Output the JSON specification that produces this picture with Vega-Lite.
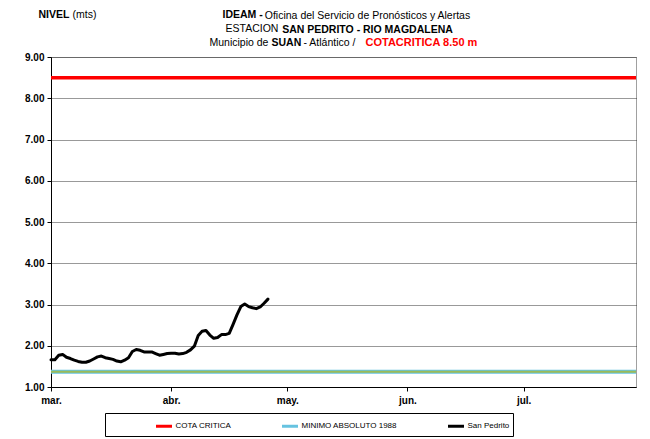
{
  "$schema": "https://vega.github.io/schema/vega-lite/v6.json",
  "width": 585,
  "height": 330,
  "autosize": {"type": "none"},
  "padding": {"left": 51, "top": 57, "right": 14, "bottom": 52},
  "background": "white",
  "title": {
    "text": "Oficina del Servicio de Pronósticos y Alertas",
    "subtitle": "SAN PEDRITO - RIO MAGDALENA",
    "anchor": "middle",
    "frame": "group",
    "dx": 24,
    "offset": -26,
    "font": "Liberation Sans",
    "fontSize": 10.5,
    "fontWeight": "normal",
    "color": "black",
    "subtitleFont": "Liberation Sans",
    "subtitleFontSize": 10.5,
    "subtitleFontWeight": "bold",
    "subtitleColor": "black",
    "subtitlePadding": 3
  },
  "data": {
    "values": [
      {"serie": "COTA CRITICA", "fecha": "2011-03-01T00:00", "nivel": 8.5},
      {"serie": "COTA CRITICA", "fecha": "2011-07-30T00:00", "nivel": 8.5},
      {"serie": "MINIMO ABSOLUTO 1988", "fecha": "2011-03-01T00:00", "nivel": 1.37},
      {"serie": "MINIMO ABSOLUTO 1988", "fecha": "2011-07-30T00:00", "nivel": 1.37},
      {"serie": "San Pedrito", "fecha": "2011-03-01T00:00", "nivel": 1.66},
      {"serie": "San Pedrito", "fecha": "2011-03-02T00:00", "nivel": 1.66},
      {"serie": "San Pedrito", "fecha": "2011-03-03T00:00", "nivel": 1.77},
      {"serie": "San Pedrito", "fecha": "2011-03-04T00:00", "nivel": 1.79},
      {"serie": "San Pedrito", "fecha": "2011-03-05T00:00", "nivel": 1.72},
      {"serie": "San Pedrito", "fecha": "2011-03-06T00:00", "nivel": 1.69},
      {"serie": "San Pedrito", "fecha": "2011-03-07T00:00", "nivel": 1.65},
      {"serie": "San Pedrito", "fecha": "2011-03-08T00:00", "nivel": 1.62},
      {"serie": "San Pedrito", "fecha": "2011-03-09T00:00", "nivel": 1.6},
      {"serie": "San Pedrito", "fecha": "2011-03-10T00:00", "nivel": 1.6},
      {"serie": "San Pedrito", "fecha": "2011-03-11T00:00", "nivel": 1.63},
      {"serie": "San Pedrito", "fecha": "2011-03-12T00:00", "nivel": 1.68},
      {"serie": "San Pedrito", "fecha": "2011-03-13T00:00", "nivel": 1.73},
      {"serie": "San Pedrito", "fecha": "2011-03-14T00:00", "nivel": 1.75},
      {"serie": "San Pedrito", "fecha": "2011-03-15T00:00", "nivel": 1.71},
      {"serie": "San Pedrito", "fecha": "2011-03-16T00:00", "nivel": 1.69},
      {"serie": "San Pedrito", "fecha": "2011-03-17T00:00", "nivel": 1.67},
      {"serie": "San Pedrito", "fecha": "2011-03-18T00:00", "nivel": 1.63},
      {"serie": "San Pedrito", "fecha": "2011-03-19T00:00", "nivel": 1.61},
      {"serie": "San Pedrito", "fecha": "2011-03-20T00:00", "nivel": 1.65},
      {"serie": "San Pedrito", "fecha": "2011-03-21T00:00", "nivel": 1.71},
      {"serie": "San Pedrito", "fecha": "2011-03-22T00:00", "nivel": 1.86},
      {"serie": "San Pedrito", "fecha": "2011-03-23T00:00", "nivel": 1.91},
      {"serie": "San Pedrito", "fecha": "2011-03-24T00:00", "nivel": 1.89},
      {"serie": "San Pedrito", "fecha": "2011-03-25T00:00", "nivel": 1.85},
      {"serie": "San Pedrito", "fecha": "2011-03-26T00:00", "nivel": 1.85},
      {"serie": "San Pedrito", "fecha": "2011-03-27T00:00", "nivel": 1.85},
      {"serie": "San Pedrito", "fecha": "2011-03-28T00:00", "nivel": 1.81},
      {"serie": "San Pedrito", "fecha": "2011-03-29T00:00", "nivel": 1.77},
      {"serie": "San Pedrito", "fecha": "2011-03-30T00:00", "nivel": 1.79},
      {"serie": "San Pedrito", "fecha": "2011-03-31T00:00", "nivel": 1.81},
      {"serie": "San Pedrito", "fecha": "2011-04-01T00:00", "nivel": 1.82},
      {"serie": "San Pedrito", "fecha": "2011-04-02T00:00", "nivel": 1.82},
      {"serie": "San Pedrito", "fecha": "2011-04-03T00:00", "nivel": 1.8},
      {"serie": "San Pedrito", "fecha": "2011-04-04T00:00", "nivel": 1.81},
      {"serie": "San Pedrito", "fecha": "2011-04-05T00:00", "nivel": 1.84},
      {"serie": "San Pedrito", "fecha": "2011-04-06T00:00", "nivel": 1.9},
      {"serie": "San Pedrito", "fecha": "2011-04-07T00:00", "nivel": 1.99},
      {"serie": "San Pedrito", "fecha": "2011-04-08T00:00", "nivel": 2.25},
      {"serie": "San Pedrito", "fecha": "2011-04-09T00:00", "nivel": 2.35},
      {"serie": "San Pedrito", "fecha": "2011-04-10T00:00", "nivel": 2.37},
      {"serie": "San Pedrito", "fecha": "2011-04-11T00:00", "nivel": 2.26},
      {"serie": "San Pedrito", "fecha": "2011-04-12T00:00", "nivel": 2.18},
      {"serie": "San Pedrito", "fecha": "2011-04-13T00:00", "nivel": 2.2},
      {"serie": "San Pedrito", "fecha": "2011-04-14T00:00", "nivel": 2.27},
      {"serie": "San Pedrito", "fecha": "2011-04-15T00:00", "nivel": 2.27},
      {"serie": "San Pedrito", "fecha": "2011-04-16T00:00", "nivel": 2.3},
      {"serie": "San Pedrito", "fecha": "2011-04-17T00:00", "nivel": 2.52},
      {"serie": "San Pedrito", "fecha": "2011-04-18T00:00", "nivel": 2.75},
      {"serie": "San Pedrito", "fecha": "2011-04-19T00:00", "nivel": 2.95},
      {"serie": "San Pedrito", "fecha": "2011-04-20T00:00", "nivel": 3.01},
      {"serie": "San Pedrito", "fecha": "2011-04-21T00:00", "nivel": 2.95},
      {"serie": "San Pedrito", "fecha": "2011-04-22T00:00", "nivel": 2.92},
      {"serie": "San Pedrito", "fecha": "2011-04-23T00:00", "nivel": 2.9},
      {"serie": "San Pedrito", "fecha": "2011-04-24T00:00", "nivel": 2.94},
      {"serie": "San Pedrito", "fecha": "2011-04-25T00:00", "nivel": 3.03},
      {"serie": "San Pedrito", "fecha": "2011-04-26T00:00", "nivel": 3.13}
    ]
  },
  "layer": [
    {
      "transform": [{"filter": "datum.serie === 'MINIMO ABSOLUTO 1988'"}],
      "mark": {"type": "line", "strokeWidth": 4},
      "encoding": {
        "x": {
          "field": "fecha", "type": "temporal",
          "scale": {"domain": [{"year": 2011, "month": 3, "date": 1}, {"year": 2011, "month": 7, "date": 30}]},
          "axis": {"orient": "top", "title": "Municipio de", "labels": false, "ticks": false, "domain": false, "grid": false,
            "titleX": 158, "titleY": -15, "titleAlign": "left", "titleBaseline": "middle", "titleAngle": 0,
            "titleFont": "Liberation Sans", "titleFontSize": 10.5, "titleFontWeight": "normal", "titleColor": "black"}
        },
        "y": {
          "field": "nivel", "type": "quantitative",
          "scale": {"domain": [1, 9], "nice": false, "zero": false},
          "axis": {"orient": "left", "title": "SUAN", "labels": false, "ticks": false, "domain": false, "grid": false,
            "titleX": 220, "titleY": -15, "titleAlign": "left", "titleBaseline": "middle", "titleAngle": 0,
            "titleFont": "Liberation Sans", "titleFontSize": 10.5, "titleFontWeight": "bold", "titleColor": "black"}
        },
        "color": {
          "field": "serie", "type": "nominal",
          "scale": {"domain": ["COTA CRITICA", "MINIMO ABSOLUTO 1988", "San Pedrito"], "range": ["#ff0000", "#66c3e0", "#000000"]},
          "legend": {
            "title": " ", "titleOrient": "left", "titlePadding": 46, "titleFontSize": 8,
            "orient": "none", "legendX": 54, "legendY": 356, "direction": "horizontal",
            "symbolType": "stroke", "symbolSize": 256, "symbolStrokeWidth": 3,
            "labelFont": "Liberation Sans", "labelFontSize": 8, "labelColor": "black",
            "labelOffset": 2, "columnPadding": 44, "padding": 3.5,
            "strokeColor": "black", "fillColor": "white"
          }
        }
      }
    },
    {
      "transform": [{"filter": "datum.serie === 'MINIMO ABSOLUTO 1988'"}],
      "mark": {"type": "line", "strokeWidth": 2, "color": "#9bbb59"},
      "encoding": {
        "x": {
          "field": "fecha", "type": "temporal",
          "axis": {"orient": "top", "title": "- Atlántico  /", "labels": false, "ticks": false, "domain": false, "grid": false,
            "titleX": 252, "titleY": -15, "titleAlign": "left", "titleBaseline": "middle", "titleAngle": 0,
            "titleFont": "Liberation Sans", "titleFontSize": 10.5, "titleFontWeight": "normal", "titleColor": "black"}
        },
        "y": {
          "field": "nivel", "type": "quantitative",
          "axis": {"orient": "left", "title": "ESTACION", "labels": false, "ticks": false, "domain": false, "grid": false,
            "titleX": 174, "titleY": -29, "titleAlign": "left", "titleBaseline": "middle", "titleAngle": 0,
            "titleFont": "Liberation Sans", "titleFontSize": 10.5, "titleFontWeight": "normal", "titleColor": "black"}
        }
      }
    },
    {
      "transform": [{"filter": "datum.serie === 'COTA CRITICA'"}],
      "mark": {"type": "line", "strokeWidth": 3.5},
      "encoding": {
        "x": {
          "field": "fecha", "type": "temporal",
          "axis": {"orient": "top", "title": "COTACRITICA 8.50 m", "labels": false, "ticks": false, "domain": false, "grid": false,
            "titleX": 314, "titleY": -15, "titleAlign": "left", "titleBaseline": "middle", "titleAngle": 0,
            "titleFont": "Liberation Sans", "titleFontSize": 11, "titleFontWeight": "bold", "titleColor": "#ff0000"}
        },
        "y": {
          "field": "nivel", "type": "quantitative",
          "axis": {"orient": "left", "title": "IDEAM -", "labels": false, "ticks": false, "domain": false, "grid": false,
            "titleX": 171, "titleY": -43, "titleAlign": "left", "titleBaseline": "middle", "titleAngle": 0,
            "titleFont": "Liberation Sans", "titleFontSize": 10.5, "titleFontWeight": "bold", "titleColor": "black"}
        },
        "color": {"field": "serie", "type": "nominal"}
      }
    },
    {
      "transform": [{"filter": "datum.serie === 'San Pedrito'"}],
      "mark": {"type": "line", "strokeWidth": 3, "strokeJoin": "round", "strokeCap": "round"},
      "encoding": {
        "x": {
          "field": "fecha", "type": "temporal",
          "axis": {"orient": "bottom", "title": "(mts)",
            "values": [{"year": 2011, "month": 3, "date": 1}, {"year": 2011, "month": 4, "date": 1}, {"year": 2011, "month": 5, "date": 1}, {"year": 2011, "month": 6, "date": 1}, {"year": 2011, "month": 7, "date": 1}],
            "labelExpr": "['ene.','feb.','mar.','abr.','may.','jun.','jul.','ago.','sep.','oct.','nov.','dic.'][month(datum.value)]",
            "labelFont": "Liberation Sans", "labelFontSize": 10, "labelFontWeight": "bold", "labelColor": "black",
            "labelPadding": 4, "labelFlush": false, "labelOverlap": false,
            "ticks": true, "tickSize": 4, "tickColor": "black", "domain": true, "domainColor": "black", "domainWidth": 1, "grid": false,
            "titleX": 21, "titleY": -373, "titleAlign": "left", "titleBaseline": "middle", "titleAngle": 0,
            "titleFont": "Liberation Sans", "titleFontSize": 10.5, "titleFontWeight": "normal", "titleColor": "black"}
        },
        "y": {
          "field": "nivel", "type": "quantitative",
          "axis": {"orient": "left", "title": "NIVEL",
            "values": [1, 2, 3, 4, 5, 6, 7, 8, 9], "format": ".2f",
            "labelFont": "Liberation Sans", "labelFontSize": 10, "labelFontWeight": "bold", "labelColor": "black",
            "labelPadding": 3, "labelFlush": false, "labelOverlap": false,
            "ticks": true, "tickSize": 4, "tickColor": "black", "domain": true, "domainColor": "black", "domainWidth": 1,
            "grid": true, "gridColor": "#333333", "gridDash": [1, 1], "gridWidth": 1,
            "titleX": -13, "titleY": -43, "titleAlign": "left", "titleBaseline": "middle", "titleAngle": 0,
            "titleFont": "Liberation Sans", "titleFontSize": 10.5, "titleFontWeight": "bold", "titleColor": "black"}
        },
        "color": {"field": "serie", "type": "nominal"}
      }
    }
  ],
  "resolve": {"axis": {"x": "independent", "y": "independent"}},
  "config": {
    "font": "Liberation Sans",
    "view": {"stroke": "#a0a0a0", "strokeWidth": 1}
  }
}
